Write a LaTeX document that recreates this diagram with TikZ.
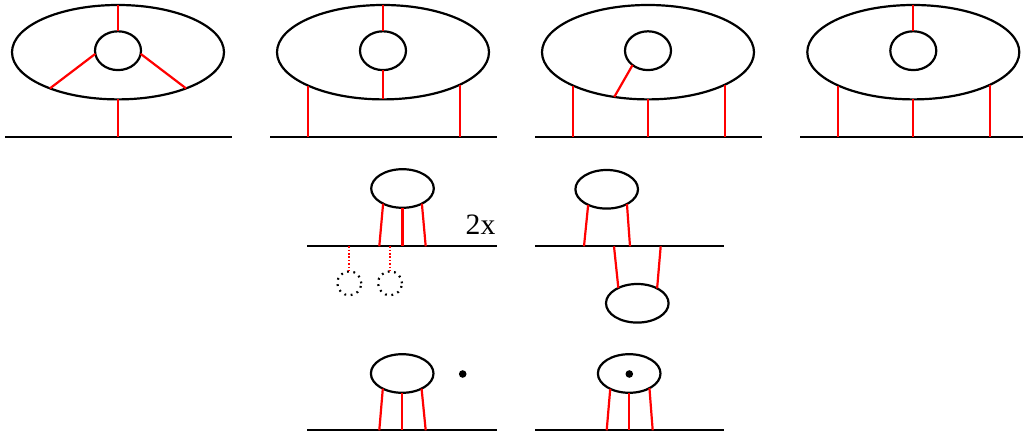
\documentclass[tikz,border=0pt]{standalone}
\usepackage{fontspec}
\setmainfont{Liberation Serif}
\usetikzlibrary{shapes.geometric}
\begin{document}
\begin{tikzpicture}[x=0.5pt,y=-0.5pt,
  ring/.style={draw, ellipse, line width=1.1pt, inner sep=0pt, outer sep=0pt},
  outerring/.style={ring, minimum width=106pt, minimum height=47.2pt},
  innerring/.style={ring, minimum width=23pt, minimum height=19.4pt},
  blob/.style={ring, minimum width=31.3pt, minimum height=19.3pt},
  leg/.style={draw=red, line width=1.1pt},
  ghostleg/.style={draw=red, line width=1.1pt, dash pattern=on 0.8pt off 0.9pt},
  ghost/.style={draw, circle, line width=1.1pt, dash pattern=on 0.9pt off 2.3pt, minimum size=12pt, inner sep=0pt, outer sep=0pt},
  groundline/.style={draw, line width=1.1pt},
  dotmark/.style={fill, circle, inner sep=0pt, minimum size=3.8pt},
  lbl/.style={inner sep=0pt, font=\fontsize{14.8pt}{17pt}\selectfont},
]
\useasboundingbox (0,0) rectangle (1024,437);

% ---------- Panel 1 ----------
\node[outerring] (o1) at (118,52.2) {};
\node[innerring] (i1) at (118,50.7) {};
\coordinate (g1l) at (5,137);
\coordinate (g1r) at (231.7,137);
\draw[groundline] (g1l) -- (g1r);
\draw[leg] (o1.north) -- (i1.north);
\draw[leg] (i1.188) -- (o1.208);
\draw[leg] (i1.-8.5) -- (o1.-28);
\draw[leg] (o1.south) -- (o1.south |- g1l);

% ---------- Panel 2 ----------
\node[outerring] (o2) at (383,52.2) {};
\node[innerring] (i2) at (383,50.7) {};
\coordinate (g2l) at (270,137);
\coordinate (g2r) at (496.7,137);
\draw[groundline] (g2l) -- (g2r);
\draw[leg] (o2.north) -- (i2.north);
\draw[leg] (i2.south) -- (o2.south);
\draw[leg] (o2.-156.65) -- (o2.-156.65 |- g2l);
\draw[leg] (o2.-23.35) -- (o2.-23.35 |- g2l);

% ---------- Panel 3 ----------
\node[outerring] (o3) at (648,52.2) {};
\node[innerring] (i3) at (648,50.7) {};
\coordinate (g3l) at (535,137);
\coordinate (g3r) at (761.7,137);
\draw[groundline] (g3l) -- (g3r);
\draw[leg] (i3.223.6) -- (o3.233);
\draw[leg] (o3.-156.65) -- (o3.-156.65 |- g3l);
\draw[leg] (o3.south) -- (o3.south |- g3l);
\draw[leg] (o3.-23.35) -- (o3.-23.35 |- g3l);

% ---------- Panel 4 ----------
\node[outerring] (o4) at (913.3,52.2) {};
\node[innerring] (i4) at (913.3,50.7) {};
\coordinate (g4l) at (800,137);
\coordinate (g4r) at (1023.3,137);
\draw[groundline] (g4l) -- (g4r);
\draw[leg] (o4.north) -- (i4.north);
\draw[leg] (o4.-156.65) -- (o4.-156.65 |- g4l);
\draw[leg] (o4.south) -- (o4.south |- g4l);
\draw[leg] (o4.-23.35) -- (o4.-23.35 |- g4l);

% ---------- Middle left ----------
\node[blob] (m1) at (402.5,188.5) {};
\coordinate (g5l) at (307.3,246.3);
\coordinate (g5r) at (497.3,246.3);
\draw[groundline] (g5l) -- (g5r);
\coordinate (f5a) at (379.3,246.3);
\coordinate (f5c) at (425.7,246.3);
\draw[leg] (m1.218.5) -- (f5a);
\draw[leg] (m1.south) -- (m1.south |- g5l);
\draw[leg] (m1.-38.5) -- (f5c);
\node[ghost] (c1) at (349.3,283.3) {};
\node[ghost] (c2) at (390,283.3) {};
\draw[ghostleg] (c1.north |- g5l) -- (c1.north);
\draw[ghostleg] (c2.north |- g5l) -- (c2.north);
\node[lbl] (twox) at (480.5,225) {2x};

% ---------- Middle right ----------
\node[blob] (m2) at (606.7,189.3) {};
\node[blob] (m3) at (637.3,303.3) {};
\coordinate (g6l) at (535,246.3);
\coordinate (g6r) at (724,246.3);
\draw[groundline] (g6l) -- (g6r);
\coordinate (f6a) at (584,246.3);
\coordinate (f6b) at (630,246.3);
\coordinate (f6c) at (614,246.3);
\coordinate (f6d) at (660.7,246.3);
\draw[leg] (m2.220.3) -- (f6a);
\draw[leg] (m2.-36.5) -- (f6b);
\draw[leg] (f6c) -- (m3.141.3);
\draw[leg] (f6d) -- (m3.37.7);

% ---------- Bottom left ----------
\node[blob] (n1) at (402.2,373.5) {};
\node[dotmark] (d1) at (462.7,374) {};
\coordinate (g7l) at (307.3,430.3);
\coordinate (g7r) at (496.7,430.3);
\draw[groundline] (g7l) -- (g7r);
\coordinate (f7a) at (379.3,430.3);
\coordinate (f7c) at (425.7,430.3);
\draw[leg] (n1.218.5) -- (f7a);
\draw[leg] (n1.south) -- (n1.south |- g7l);
\draw[leg] (n1.-38.5) -- (f7c);

% ---------- Bottom right ----------
\node[blob] (n2) at (629.2,373.5) {};
\node[dotmark] (d2) at (629.3,374) {};
\coordinate (g8l) at (535,430.3);
\coordinate (g8r) at (724,430.3);
\draw[groundline] (g8l) -- (g8r);
\coordinate (f8a) at (606.7,430.3);
\coordinate (f8c) at (652.7,430.3);
\draw[leg] (n2.219.8) -- (f8a);
\draw[leg] (n2.south) -- (n2.south |- g8l);
\draw[leg] (n2.-36) -- (f8c);
\end{tikzpicture}
\end{document}
